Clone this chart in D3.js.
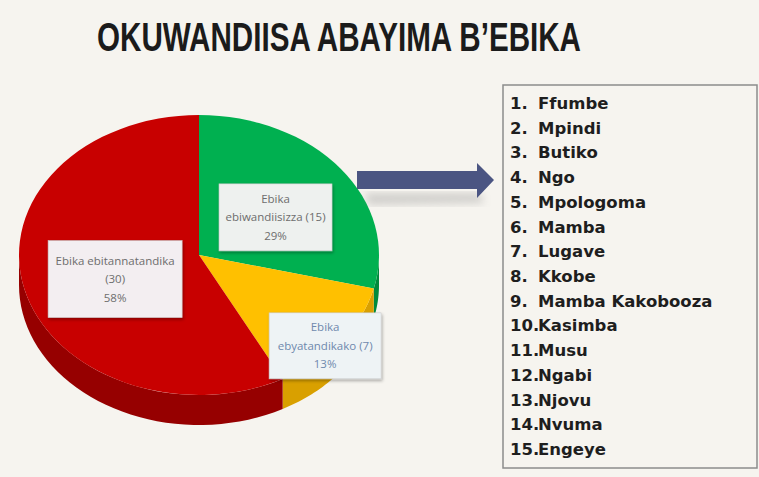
<!DOCTYPE html>
<html>
<head>
<meta charset="utf-8">
<script src="https://cdn.jsdelivr.net/npm/d3@7"></script>
<style>
  body { margin: 0; background: #f6f4ef; }
  svg { display: block; }
</style>
</head>
<body>
<div id="chart"></div>
<script>
// data
const categories = ["Ebika ebiwandiisizza", "Ebika ebyatandikako", "Ebika ebitannatandika"];
const values = [15, 7, 30];
const sliceColors = ["#00b050", "#ffc000", "#c80000"];
const sideColors = ["#008a3c", "#d9a000", "#960000"];
const listItems = ["Ffumbe", "Mpindi", "Butiko", "Ngo", "Mpologoma", "Mamba", "Lugave", "Kkobe",
  "Mamba Kakobooza", "Kasimba", "Musu", "Ngabi", "Njovu", "Nvuma", "Engeye"];
const title = "OKUWANDIISA ABAYIMA B\u2019EBIKA";

const W = 759, H = 477;
const svg = d3.select("#chart").append("svg")
  .attr("width", W).attr("height", H);

const defs = svg.append("defs");
const sh = defs.append("filter").attr("id", "shadow")
  .attr("x", "-20%").attr("y", "-20%").attr("width", "150%").attr("height", "160%");
sh.append("feDropShadow").attr("dx", 1).attr("dy", 2).attr("stdDeviation", 1.5)
  .attr("flood-color", "#000").attr("flood-opacity", 0.3);
const blur = defs.append("filter").attr("id", "blur");
blur.append("feGaussianBlur").attr("stdDeviation", 4);

svg.append("rect").attr("width", W).attr("height", H).attr("fill", "#f6f4ef");

// title
svg.append("text")
  .attr("x", 97).attr("y", 51)
  .attr("textLength", 484).attr("lengthAdjust", "spacingAndGlyphs")
  .attr("font-family", "'Liberation Sans', Arial, sans-serif")
  .attr("font-weight", "bold").attr("font-size", 40)
  .attr("fill", "#1b1b1b")
  .text(title);

// 3D pie
const cx = 199, cy = 255, rx = 180, ry = 140, depth = 30;
const total = d3.sum(values);
const pie = d3.pie().sort(null).value(d => d);
const arcs = pie(values);
const arc = d3.arc().innerRadius(0).outerRadius(rx);

const pt = (t, dy) => [cx + rx * Math.sin(t), cy - ry * Math.cos(t) + dy];

const pieG = svg.append("g");

arcs.forEach((a, i) => {
  const s = Math.max(a.startAngle, Math.PI / 2);
  const e = Math.min(a.endAngle, 3 * Math.PI / 2);
  if (e <= s) return;
  const steps = d3.range(0, 41).map(k => s + (e - s) * k / 40);
  const top = steps.map(t => pt(t, 0));
  const bot = steps.slice().reverse().map(t => pt(t, depth));
  pieG.append("path")
    .attr("d", d3.line()(top.concat(bot)) + "Z")
    .attr("fill", sideColors[i]);
});

pieG.append("g")
  .attr("transform", `translate(${cx},${cy}) scale(1,${ry / rx})`)
  .selectAll("path")
  .data(arcs)
  .join("path")
  .attr("d", arc)
  .attr("fill", (d, i) => sliceColors[i]);

// data labels
const labelLines = [
  ["Ebika", "ebiwandiisizza (15)"],
  ["Ebika", "ebyatandikako (7)"],
  ["Ebika ebitannatandika", "(30)"]
];
const labelFrac = [0.54, 0.89, 0.48];
const labelBox = [[113, 67], [112, 66], [134, 77]];
const labelFill = ["#eef1ef", "#eef3f5", "#f3eef1"];
const labelText = ["#6d6d6d", "#6f89ad", "#6d6d6d"];
const labelShift = [9, 14, 8];

arcs.forEach((a, i) => {
  const m = (a.startAngle + a.endAngle) / 2;
  const x = cx + rx * labelFrac[i] * Math.sin(m);
  const y = cy - ry * labelFrac[i] * Math.cos(m) + labelShift[i];
  const [bw, bh] = labelBox[i];
  const g = svg.append("g").attr("transform", `translate(${x},${y})`);
  g.append("rect")
    .attr("x", -bw / 2).attr("y", -bh / 2).attr("width", bw).attr("height", bh)
    .attr("fill", labelFill[i]).attr("stroke", "#c9c9c9").attr("stroke-width", 0.6)
    .attr("filter", "url(#shadow)");
  const lines = labelLines[i].concat([d3.format(".0%")(values[i] / total)]);
  g.selectAll("text").data(lines).join("text")
    .attr("x", 0)
    .attr("y", (d, k) => (k - 1) * 18.5 + 4)
    .attr("text-anchor", "middle")
    .attr("font-family", "'Open Sans', sans-serif")
    .attr("font-size", 11.5)
    .attr("fill", labelText[i])
    .text(d => d);
});

// arrow
svg.append("path")
  .attr("d", "M365,193 L480,193 L484,203 L368,205 Z")
  .attr("fill", "#8a8a8a").attr("opacity", 0.35).attr("filter", "url(#blur)");
svg.append("path")
  .attr("d", "M357,171 L477,171 L477,163 L494,180 L477,198 L477,189 L357,189 Z")
  .attr("fill", "#4b5582");

// list box
svg.append("rect")
  .attr("x", 503).attr("y", 85).attr("width", 254).attr("height", 383)
  .attr("fill", "#f6f4ef").attr("stroke", "#8c8c8c").attr("stroke-width", 1.5);

const y = d3.scalePoint().domain(d3.range(listItems.length)).range([109, 455]);
const rows = svg.append("g")
  .attr("font-family", "'DejaVu Sans', sans-serif")
  .attr("font-weight", "bold").attr("font-size", 16.5).attr("fill", "#1e1e1e")
  .selectAll("g").data(listItems).join("g")
  .attr("transform", (d, i) => `translate(0,${y(i)})`);
rows.append("text").attr("x", 510).text((d, i) => (i + 1) + ".");
rows.append("text").attr("x", 538).text(d => d);
</script>
</body>
</html>
